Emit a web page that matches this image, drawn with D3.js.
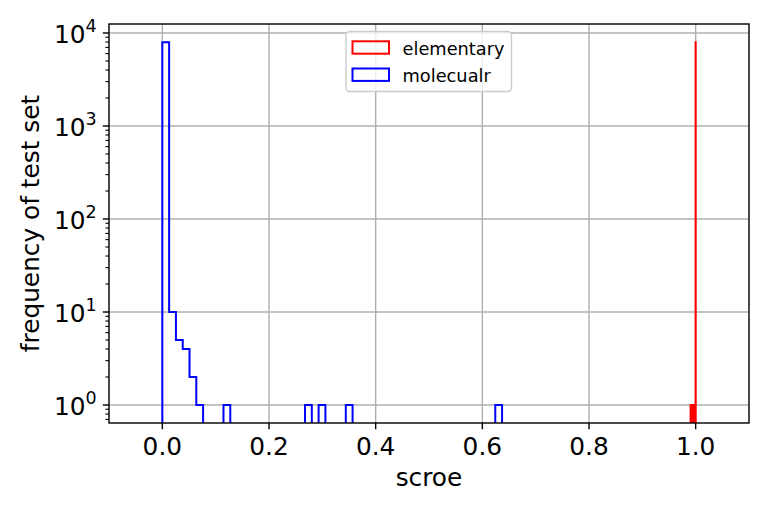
<!DOCTYPE html>
<html><head><meta charset="utf-8">
<script src="https://cdn.jsdelivr.net/npm/d3@7"></script>
<style>body{margin:0;background:#fff} text{font-family:"DejaVu Sans",sans-serif}</style>
</head><body><svg id="c" width="768" height="512"></svg>
<script>
// ---- data ----
const seriesNames = ["elementary", "molecualr"];
const seriesColors = ["red", "blue"];
const molecularRange = [0, 0.637];
const molecularCounts = [
  7950, 10, 5, 4, 2, 1, 0, 0, 0, 1,
  0, 0, 0, 0, 0, 0, 0, 0, 0, 0,
  0, 1, 0, 1, 0, 0, 0, 1, 0, 0,
  0, 0, 0, 0, 0, 0, 0, 0, 0, 0,
  0, 0, 0, 0, 0, 0, 0, 0, 0, 1];
const elementaryRange = [0.9905, 1.0];
const elementaryCounts = [
  1, 0, 1, 1, 0, 1, 0, 1, 1, 0,
  1, 0, 1, 0, 1, 1, 0, 1, 0, 1,
  1, 0, 1, 1, 0, 1, 0, 1, 0, 1,
  1, 0, 1, 0, 1, 1, 0, 1, 0, 1,
  0, 0, 0, 0, 0, 0, 0, 0, 0, 7950];
const xTicks = [0, 0.2, 0.4, 0.6, 0.8, 1.0];
const xTickLabels = ["0.0", "0.2", "0.4", "0.6", "0.8", "1.0"];
const yTicks = [1, 10, 100, 1000, 10000];
const yTickExps = ["0", "1", "2", "3", "4"];
const xLabel = "scroe";
const yLabel = "frequency of test set";

// ---- layout ----
const L = 109, R = 749, T = 24, B = 423;
const svg = d3.select("#c");
const x = d3.scaleLinear().domain([-0.1, 1.1]).range([L, R]);
const y = d3.scaleLog().domain([Math.pow(10, -0.1935), Math.pow(10, 4.0968)]).range([B, T]);
const lw = 2, spineW = 1.42, fs = 24.8;

// grid
const g = svg.append("g");
g.selectAll(".gx").data(xTicks).enter().append("line")
  .attr("x1", d => x(d)).attr("x2", d => x(d)).attr("y1", T).attr("y2", B)
  .attr("stroke", "#b0b0b0").attr("stroke-width", spineW);
g.selectAll(".gy").data(yTicks).enter().append("line")
  .attr("y1", d => y(d)).attr("y2", d => y(d)).attr("x1", L).attr("x2", R)
  .attr("stroke", "#b0b0b0").attr("stroke-width", spineW);

// clip
svg.append("clipPath").attr("id", "clip").append("rect")
  .attr("x", L).attr("y", T).attr("width", R - L).attr("height", B - T);

function stepPoints(range, counts) {
  const n = counts.length, w = (range[1] - range[0]) / n;
  const pts = [[range[0], 0]];
  counts.forEach((c, i) => {
    pts.push([range[0] + i * w, c]);
    pts.push([range[0] + (i + 1) * w, c]);
  });
  pts.push([range[1], 0]);
  return pts;
}
const line = d3.line().x(d => x(d[0])).y(d => d[1] > 0 ? y(d[1]) : B + 20);
const hists = [[elementaryRange, elementaryCounts], [molecularRange, molecularCounts]];
hists.forEach((h, i) => {
  svg.append("path").attr("d", line(stepPoints(h[0], h[1])))
    .attr("fill", "none").attr("stroke", seriesColors[i]).attr("stroke-width", lw)
    .attr("stroke-linejoin", "miter").attr("clip-path", "url(#clip)");
});

// spines
svg.append("rect").attr("x", L).attr("y", T).attr("width", R - L).attr("height", B - T)
  .attr("fill", "none").attr("stroke", "black").attr("stroke-width", spineW);

// x ticks
xTicks.forEach((t, i) => {
  svg.append("line").attr("x1", x(t)).attr("x2", x(t)).attr("y1", B).attr("y2", B + 6.2)
    .attr("stroke", "black").attr("stroke-width", spineW);
  svg.append("text").attr("x", x(t)).attr("y", B + 32).attr("text-anchor", "middle")
    .attr("font-size", fs).text(xTickLabels[i]);
});
// y major ticks
yTicks.forEach((t, i) => {
  svg.append("line").attr("x1", L - 6.2).attr("x2", L).attr("y1", y(t)).attr("y2", y(t))
    .attr("stroke", "black").attr("stroke-width", spineW);
  const tx = svg.append("text").attr("x", L - 12.4).attr("y", y(t) + 9.5).attr("text-anchor", "end")
    .attr("font-size", fs);
  tx.append("tspan").text("10");
  tx.append("tspan").attr("dy", -11).attr("font-size", 17.5).text(yTickExps[i]);
});
// y minor ticks
const [d0, d1] = y.domain();
for (let e = -1; e <= 4; e++) {
  for (let k = 2; k <= 9; k++) {
    const v = k * Math.pow(10, e);
    if (v >= d0 && v <= d1) {
      svg.append("line").attr("x1", L - 3.6).attr("x2", L).attr("y1", y(v)).attr("y2", y(v))
        .attr("stroke", "black").attr("stroke-width", 1.1);
    }
  }
}

// axis labels
svg.append("text").attr("x", (L + R) / 2).attr("y", 486).attr("text-anchor", "middle")
  .attr("font-size", fs).text(xLabel);
svg.append("text").attr("transform", `translate(39,${(T + B) / 2}) rotate(-90)`)
  .attr("text-anchor", "middle").attr("font-size", fs).text(yLabel);

// legend
const lg = svg.append("g");
lg.append("rect").attr("x", 346).attr("y", 31.5).attr("width", 165.5).attr("height", 60)
  .attr("rx", 3.5).attr("fill", "white").attr("fill-opacity", 0.8)
  .attr("stroke", "#cccccc").attr("stroke-width", 1.42);
seriesNames.forEach((name, i) => {
  const cy = 47.5 + i * 27.2;
  lg.append("rect").attr("x", 352.5).attr("y", cy - 6.2).attr("width", 36.5).attr("height", 12.4)
    .attr("fill", "none").attr("stroke", seriesColors[i]).attr("stroke-width", lw);
  lg.append("text").attr("x", 402.5).attr("y", cy + 7).attr("font-size", 17.8).text(name);
});
</script></body></html>
